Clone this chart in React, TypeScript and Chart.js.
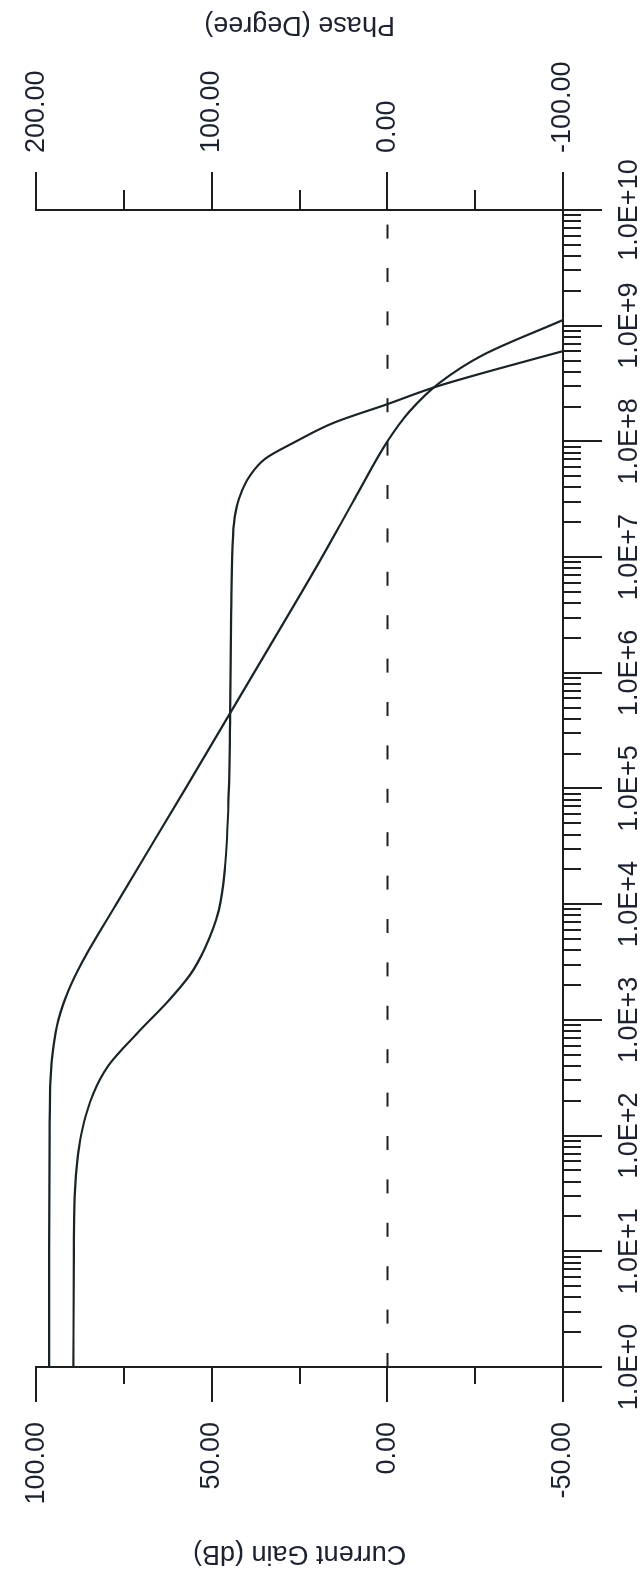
import React, { useEffect, useRef } from "react";
import { Chart, registerables } from "chart.js";

Chart.register(...registerables);

// ---------- data ----------
const gainFreqs = [1, 10, 100, 316, 560, 1000, 1800, 3200, 1e4, 1e5, 1e6, 1e7, 3.2e7, 1e8, 1.8e8, 3.2e8, 5.6e8, 1.12e9];
const gainValues = [96.3, 96.3, 96.2, 95.9, 95.2, 93.7, 90.8, 86.8, 77.2, 57.5, 38.0, 18.6, 9.3, 0.0, -6.2, -14.8, -27.3, -50];

const phaseFreqs = [1, 10, 32, 100, 230, 400, 780, 1500, 2500, 4000, 8900, 2.1e4, 1e5, 4.5e5, 3.2e6, 1.15e7, 2.2e7, 3.2e7, 5e7, 7.1e7, 1e8, 1.45e8, 2.1e8, 3e8, 4.2e8, 6e8];
const phaseValues = [178.8, 178.6, 178, 174.5, 167.5, 159, 142, 124, 112, 104.5, 96, 92.5, 90.3, 89.6, 89, 88.3, 87, 84.5, 78.5, 69.5, 52, 30.5, 0, -28.6, -62, -99.5];

const zeroLineFreqs = [1, 1e10];
const zeroLineValues = [0, 0];

// ---------- ticks ----------
const freqMajorExponents = [0, 1, 2, 3, 4, 5, 6, 7, 8, 9, 10];
const freqTickLabels = ["1.0E+0", "1.0E+1", "1.0E+2", "1.0E+3", "1.0E+4", "1.0E+5", "1.0E+6", "1.0E+7", "1.0E+8", "1.0E+9", "1.0E+10"];
const freqMinorMultipliers = [2, 3, 4, 5, 6, 7, 8, 9];

const gainTickValues = [100, 75, 50, 25, 0, -25, -50];
const gainTickLabels = ["100.00", "", "50.00", "", "0.00", "", "-50.00"];
const phaseTickValues = [200, 150, 100, 50, 0, -50, -100];
const phaseTickLabels = ["200.00", "", "100.00", "", "0.00", "", "-100.00"];

const gainTitle = "Current Gain (dB)";
const phaseTitle = "Phase (Degree)";

// ---------- styling ----------
const W = 1574;
const H = 644;
const FONT_FAMILY = '"Liberation Sans", Arial, Helvetica, sans-serif';
const FONT_SIZE = 27;
const TEXT_COLOR = "#1d2230";
const AXIS_COLOR = "#1e1e1e";
const CURVE_COLOR = "#1a2428";

const freqMajorValues = freqMajorExponents.map((e) => Math.pow(10, e));
const freqTickValues: number[] = [];
freqMajorExponents.forEach((e) => {
  freqTickValues.push(Math.pow(10, e));
  if (e < freqMajorExponents[freqMajorExponents.length - 1]) {
    freqMinorMultipliers.forEach((m) => freqTickValues.push(m * Math.pow(10, e)));
  }
});

function majorIndex(v: number) {
  return freqMajorValues.findIndex((m) => Math.abs(v - m) <= m * 1e-9);
}
function freqLabel(v: number) {
  const i = majorIndex(v);
  return i >= 0 ? freqTickLabels[i] : "";
}
function lookupLabel(values: number[], labels: string[], v: number) {
  const i = values.findIndex((x) => Math.abs(x - v) < 1e-9);
  return i >= 0 ? labels[i] : "";
}

const axisTicksPlugin = {
  id: "axisTicks",
  afterDraw(chart: any) {
    const { ctx, chartArea } = chart;
    const xs = chart.scales.x;
    const yg = chart.scales.y;
    const yp = chart.scales.y2;
    ctx.save();
    ctx.strokeStyle = AXIS_COLOR;
    ctx.lineWidth = 2;
    ctx.beginPath();
    freqTickValues.forEach((v) => {
      const px = Math.round(xs.getPixelForValue(v));
      const len = majorIndex(v) >= 0 ? 39 : 18;
      ctx.moveTo(px, chartArea.bottom);
      ctx.lineTo(px, chartArea.bottom + len);
    });
    gainTickValues.forEach((v, i) => {
      const py = Math.round(yg.getPixelForValue(v));
      const len = gainTickLabels[i] ? 35 : 17;
      ctx.moveTo(chartArea.left - len, py);
      ctx.lineTo(chartArea.left, py);
    });
    phaseTickValues.forEach((v, i) => {
      const py = Math.round(yp.getPixelForValue(v));
      const len = phaseTickLabels[i] ? 38 : 20;
      ctx.moveTo(chartArea.right, py);
      ctx.lineTo(chartArea.right + len, py);
    });
    ctx.stroke();

    // axis titles (both read bottom-to-top in the unrotated frame)
    ctx.fillStyle = TEXT_COLOR;
    ctx.font = `${FONT_SIZE}px ${FONT_FAMILY}`;
    ctx.textAlign = "center";
    ctx.textBaseline = "middle";
    const cy = (chartArea.top + chartArea.bottom) / 2;
    ctx.save();
    ctx.translate(21, cy);
    ctx.rotate(-Math.PI / 2);
    ctx.fillText(gainTitle, 0, 0);
    ctx.restore();
    ctx.save();
    ctx.translate(1550, cy);
    ctx.rotate(-Math.PI / 2);
    ctx.fillText(phaseTitle, 0, 0);
    ctx.restore();
    ctx.restore();
  },
};

const hiddenGrid = (tickLength: number) => ({
  display: true,
  drawOnChartArea: false,
  drawTicks: true,
  tickLength,
  color: "rgba(0,0,0,0)",
  tickColor: "rgba(0,0,0,0)",
});

export default function App() {
  const canvasRef = useRef<HTMLCanvasElement | null>(null);

  useEffect(() => {
    const canvas = canvasRef.current;
    if (!canvas) return;
    const tickFont = { family: FONT_FAMILY, size: FONT_SIZE };
    const chart = new Chart(canvas, {
      type: "line",
      data: {
        datasets: [
          {
            label: "Phase",
            data: phaseFreqs.map((f, i) => ({ x: f, y: phaseValues[i] })),
            yAxisID: "y2",
            borderColor: CURVE_COLOR,
            borderWidth: 2.2,
            pointRadius: 0,
            cubicInterpolationMode: "monotone",
            fill: false,
          },
          {
            label: "Gain",
            data: gainFreqs.map((f, i) => ({ x: f, y: gainValues[i] })),
            yAxisID: "y",
            borderColor: CURVE_COLOR,
            borderWidth: 2.2,
            pointRadius: 0,
            cubicInterpolationMode: "monotone",
            fill: false,
          },
          {
            label: "zero",
            data: zeroLineFreqs.map((f, i) => ({ x: f, y: zeroLineValues[i] })),
            yAxisID: "y",
            borderColor: AXIS_COLOR,
            borderWidth: 2,
            borderDash: [14, 29.4],
            pointRadius: 0,
            fill: false,
          },
        ],
      },
      options: {
        responsive: false,
        animation: false,
        events: [],
        layout: { padding: { top: 32, left: 0, right: 0, bottom: 0 } },
        plugins: {
          legend: { display: false },
          tooltip: { enabled: false },
          title: { display: false },
        },
        scales: {
          x: {
            type: "logarithmic",
            position: "bottom",
            min: 1,
            max: 1e10,
            afterBuildTicks: (s: any) => {
              s.ticks = freqTickValues.map((v) => ({ value: v }));
            },
            afterFit: (s: any) => {
              s.height = 81;
            },
            grid: hiddenGrid(39),
            border: { display: true, color: AXIS_COLOR, width: 2 },
            ticks: {
              autoSkip: false,
              maxRotation: 0,
              minRotation: 0,
              padding: 11,
              color: TEXT_COLOR,
              font: tickFont,
              callback: (v: any) => freqLabel(Number(v)),
            },
          },
          y: {
            type: "linear",
            position: "left",
            min: -50,
            max: 100,
            afterBuildTicks: (s: any) => {
              s.ticks = gainTickValues.map((v) => ({ value: v }));
            },
            afterFit: (s: any) => {
              s.width = 207;
            },
            grid: hiddenGrid(35),
            border: { display: true, color: AXIS_COLOR, width: 2 },
            ticks: {
              autoSkip: false,
              padding: 20,
              color: TEXT_COLOR,
              font: tickFont,
              callback: (v: any) => lookupLabel(gainTickValues, gainTickLabels, Number(v)),
            },
          },
          y2: {
            type: "linear",
            position: "right",
            min: -100,
            max: 200,
            afterBuildTicks: (s: any) => {
              s.ticks = phaseTickValues.map((v) => ({ value: v }));
            },
            afterFit: (s: any) => {
              s.width = 210;
            },
            grid: hiddenGrid(38),
            border: { display: true, color: AXIS_COLOR, width: 2 },
            ticks: {
              autoSkip: false,
              padding: 19,
              color: TEXT_COLOR,
              font: tickFont,
              callback: (v: any) => lookupLabel(phaseTickValues, phaseTickLabels, Number(v)),
            },
          },
        },
      } as any,
      plugins: [axisTicksPlugin],
    });
    return () => chart.destroy();
  }, []);

  return (
    <div
      style={{
        position: "fixed",
        left: 0,
        top: 0,
        width: H,
        height: W,
        overflow: "hidden",
        background: "#ffffff",
      }}
    >
      <div
        style={{
          position: "absolute",
          left: 0,
          top: 0,
          width: W,
          height: H,
          transformOrigin: "0 0",
          transform: `translate(0px, ${W}px) rotate(-90deg)`,
        }}
      >
        <canvas ref={canvasRef} width={W} height={H} style={{ display: "block", width: W, height: H }} />
      </div>
    </div>
  );
}
